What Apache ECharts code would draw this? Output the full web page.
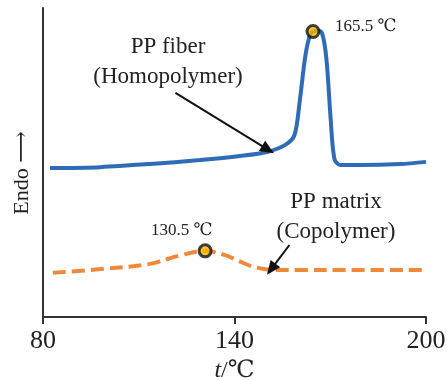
<!DOCTYPE html>
<html>
<head>
<meta charset="utf-8">
<script src="https://cdn.jsdelivr.net/npm/echarts@6/dist/echarts.min.js"></script>
<style>
  html, body { margin: 0; padding: 0; background: #fff; }
  #main { width: 447px; height: 380px; }
</style>
</head>
<body>
<div id="main"></div>
<script>
var chart = echarts.init(document.getElementById('main'));
var FONT = "'Liberation Serif', 'DejaVu Serif', 'Noto Sans CJK SC', serif";

// x ticks
var xTicks = [80, 140, 200];

// PP fiber (homopolymer) DSC curve  [t, heat flow a.u.]
var fiberT = [82.2, 97.9, 113.5, 129.2, 141.7, 150.2, 155.9, 158.8, 160.4, 162.2, 163.8, 165.6, 167.4, 168.8, 170.1, 171.3, 173.1, 179.4, 191.9, 200];
var fiberY = [48.2, 48.5, 49.5, 50.8, 52.1, 53.4, 55.7, 58.9, 69.5, 84.5, 91.6, 92.6, 91.9, 83.5, 64.5, 51.2, 49.2, 49.2, 49.5, 50.2];

// PP matrix (copolymer) DSC curve
var matrixT = [83.1, 97.9, 113.5, 122.9, 130.8, 137.1, 141.8, 146.5, 152.7, 160.6, 176.2, 200];
var matrixY = [14.3, 15.5, 17.2, 19.9, 21.4, 20.0, 17.9, 16.1, 15.2, 15.2, 15.2, 15.2];

// peak markers
var peaks = [[164.6, 92.4, '165.5 ℃'], [130.8, 21.4, '130.5 ℃']];

// annotation arrows [fromT, fromY, toT, toY]
var arrows = [[121.5, 72.5, 150.5, 54.2], [157.2, 23.3, 151.5, 15.5]];

function zip(a, b) {
  return a.map(function (v, i) { return [v, b[i]]; });
}

var option = {
  animation: false,
  grid: { left: 43, right: 21, top: 8, bottom: 63, outerBoundsMode: 'none' },
  xAxis: {
    type: 'value',
    min: 80, max: 200, interval: 60,
    name: '{i|t}/℃',
    nameLocation: 'middle',
    nameGap: 41,
    nameTextStyle: {
      fontFamily: FONT, fontSize: 24, color: '#222',
      rich: { i: { fontFamily: FONT, fontSize: 24, fontStyle: 'italic', color: '#222' } }
    },
    axisLine: { lineStyle: { color: '#333', width: 2 } },
    axisTick: { show: true, length: 7, inside: false, lineStyle: { color: '#333', width: 2 } },
    axisLabel: { fontFamily: FONT, fontSize: 26, color: '#222', margin: 11 },
    splitLine: { show: false }
  },
  yAxis: {
    type: 'value',
    min: 0, max: 100,
    axisLine: { show: true, lineStyle: { color: '#333', width: 2 } },
    axisTick: { show: false },
    axisLabel: { show: false },
    splitLine: { show: false }
  },
  series: [
    {
      name: 'PP fiber',
      type: 'line',
      data: zip(fiberT, fiberY),
      smooth: 0.3,
      showSymbol: false,
      lineStyle: { color: '#2f6cb6', width: 4 }
    },
    {
      name: 'PP matrix',
      type: 'line',
      data: zip(matrixT, matrixY),
      smooth: 0.35,
      showSymbol: false,
      lineStyle: { color: '#f08a3a', width: 4, type: [13, 6], cap: 'butt' },
      markLine: {
        silent: true,
        symbol: ['none', 'triangle'],
        symbolSize: [12, 14],
        label: { show: false },
        lineStyle: { color: '#111', width: 2, type: 'solid' },
        data: arrows.map(function (a) {
          return [{ coord: [a[0], a[1]] }, { coord: [a[2], a[3]] }];
        })
      }
    },
    {
      name: 'peaks',
      type: 'scatter',
      data: peaks.map(function (p) { return [p[0], p[1]]; }),
      symbol: 'circle',
      symbolSize: 12,
      itemStyle: { color: '#f5b400', borderColor: '#111', borderWidth: 3 },
      z: 5
    }
  ],
  graphic: [
    { type: 'text', x: 22, y: 173, rotation: Math.PI / 2, style: { text: 'Endo ⟶', fontFamily: FONT, fontSize: 22, fill: '#222', align: 'center', verticalAlign: 'middle' } },
    { type: 'text', left: 335, top: 18, style: { text: peaks[0][2], fontFamily: FONT, fontSize: 17, fill: '#222' } },
    { type: 'text', left: 151, top: 222, style: { text: peaks[1][2], fontFamily: FONT, fontSize: 17, fill: '#222' } },
    { type: 'text', x: 168, y: 47, style: { text: 'PP fiber', fontFamily: FONT, fontSize: 23, fill: '#222', align: 'center', verticalAlign: 'middle' } },
    { type: 'text', x: 168, y: 77, style: { text: '(Homopolymer)', fontFamily: FONT, fontSize: 23, fill: '#222', align: 'center', verticalAlign: 'middle' } },
    { type: 'text', x: 336, y: 202, style: { text: 'PP matrix', fontFamily: FONT, fontSize: 23, fill: '#222', align: 'center', verticalAlign: 'middle' } },
    { type: 'text', x: 336, y: 232, style: { text: '(Copolymer)', fontFamily: FONT, fontSize: 23, fill: '#222', align: 'center', verticalAlign: 'middle' } }
  ]
};

chart.setOption(option);
</script>
</body>
</html>
